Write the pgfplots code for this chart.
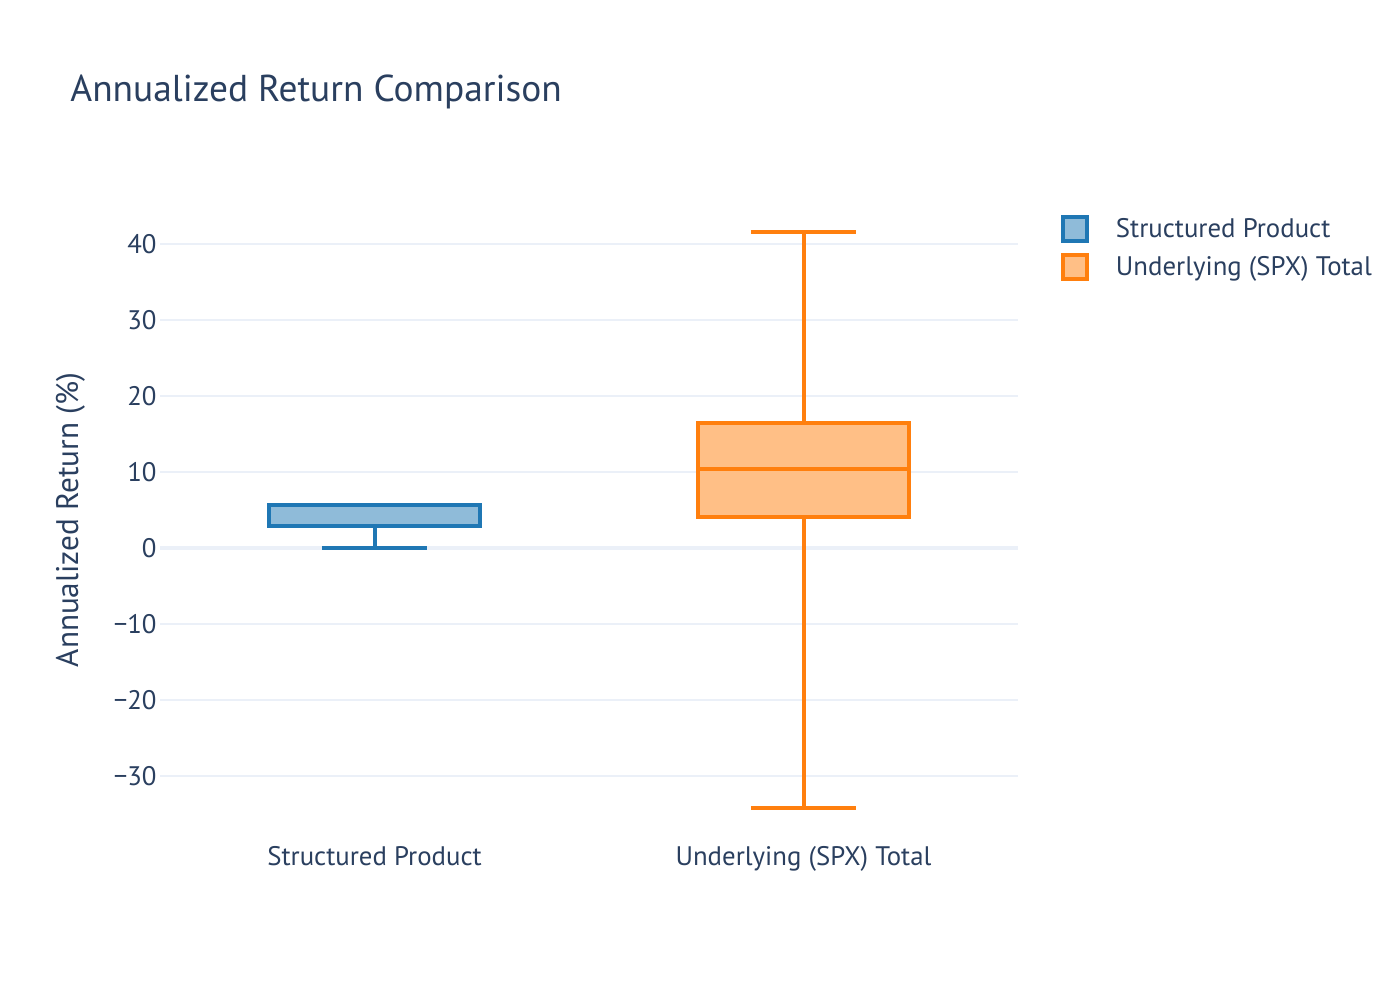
\documentclass[border=0pt]{standalone}
\usepackage{fontspec}
\setmainfont{PT Sans}
\usepackage{pgfplots}
\pgfplotsset{compat=1.18}
\usepgfplotslibrary{statistics}
\definecolor{textc}{HTML}{2A3F5F}
\definecolor{gridc}{HTML}{EBF0F8}
\definecolor{sblue}{HTML}{1F77B4}
\definecolor{sbluef}{HTML}{8FBBD9}
\definecolor{sorange}{HTML}{FF7F0E}
\definecolor{sorangef}{HTML}{FFBF86}
\begin{document}
\begin{tikzpicture}
\path[use as bounding box, fill=white] (0,0) rectangle (700pt,500pt);
\begin{axis}[
  at={(80pt,81.75pt)}, anchor=south west,
  scale only axis, width=429pt, height=316.55pt,
  xmin=-0.5, xmax=1.5, ymin=-38, ymax=45.3,
  axis line style={draw=none}, tick style={draw=none},
  xtick={0,1}, xticklabels={Structured Product, Underlying (SPX) Total},
  ytick={-30,-20,-10,10,20,30,40},
  yticklabels={−30,−20,−10,10,20,30,40},
  extra y ticks={0}, extra y tick labels={0},
  extra y tick style={ymajorgrids=true, major grid style={draw=gridc, line width=2pt}},
  ymajorgrids, major grid style={draw=gridc, line width=1pt},
  ticklabel style={font=\fontsize{13.4}{16}\selectfont, text=textc, inner sep=0pt},
  yticklabel style={anchor=east, xshift=-1.5pt},
  xticklabel style={anchor=north, yshift=-5pt},
  boxplot/draw direction=y,
  legend style={at={(1.0501,0.9817)}, anchor=north west, draw=none, fill=none,
    inner sep=0pt, outer sep=0pt, row sep=5pt,
    font=\fontsize{13.4}{16}\selectfont, text=textc, nodes={inner sep=0pt}},
  legend cell align=left,
  legend image code/.code={\draw[#1, line width=2pt] (0pt,-6pt) rectangle (12pt,6pt); \path[draw=none,fill=none] (0pt,0pt) -- (26.5pt,0pt);},
]
\addplot[forget plot, draw=sblue, fill=sbluef, line width=2pt,
  boxplot prepared={draw position=0, lower whisker=0, lower quartile=2.9,
  median=5.6, upper quartile=5.6, upper whisker=5.6,
  box extend=0.49, whisker extend=0.245}] coordinates {};
\addplot[forget plot, draw=sorange, fill=sorangef, line width=2pt,
  boxplot prepared={draw position=1, lower whisker=-34.2, lower quartile=4.0,
  median=10.4, upper quartile=16.4, upper whisker=41.5,
  box extend=0.49, whisker extend=0.245}] coordinates {};
\addlegendimage{draw=sblue, fill=sbluef}
\addlegendentry{Structured Product}
\addlegendimage{draw=sorange, fill=sorangef}
\addlegendentry{Underlying (SPX) Total}
\end{axis}
\node[anchor=base west, font=\fontsize{18.7}{22}\selectfont, text=textc, inner sep=0pt] at (35pt,449pt) {Annualized Return Comparison};
\node[rotate=90, font=\fontsize{15.6}{19}\selectfont, text=textc, inner sep=0pt] at (35.25pt,240pt) {Annualized Return (\%)};
\end{tikzpicture}
\end{document}
